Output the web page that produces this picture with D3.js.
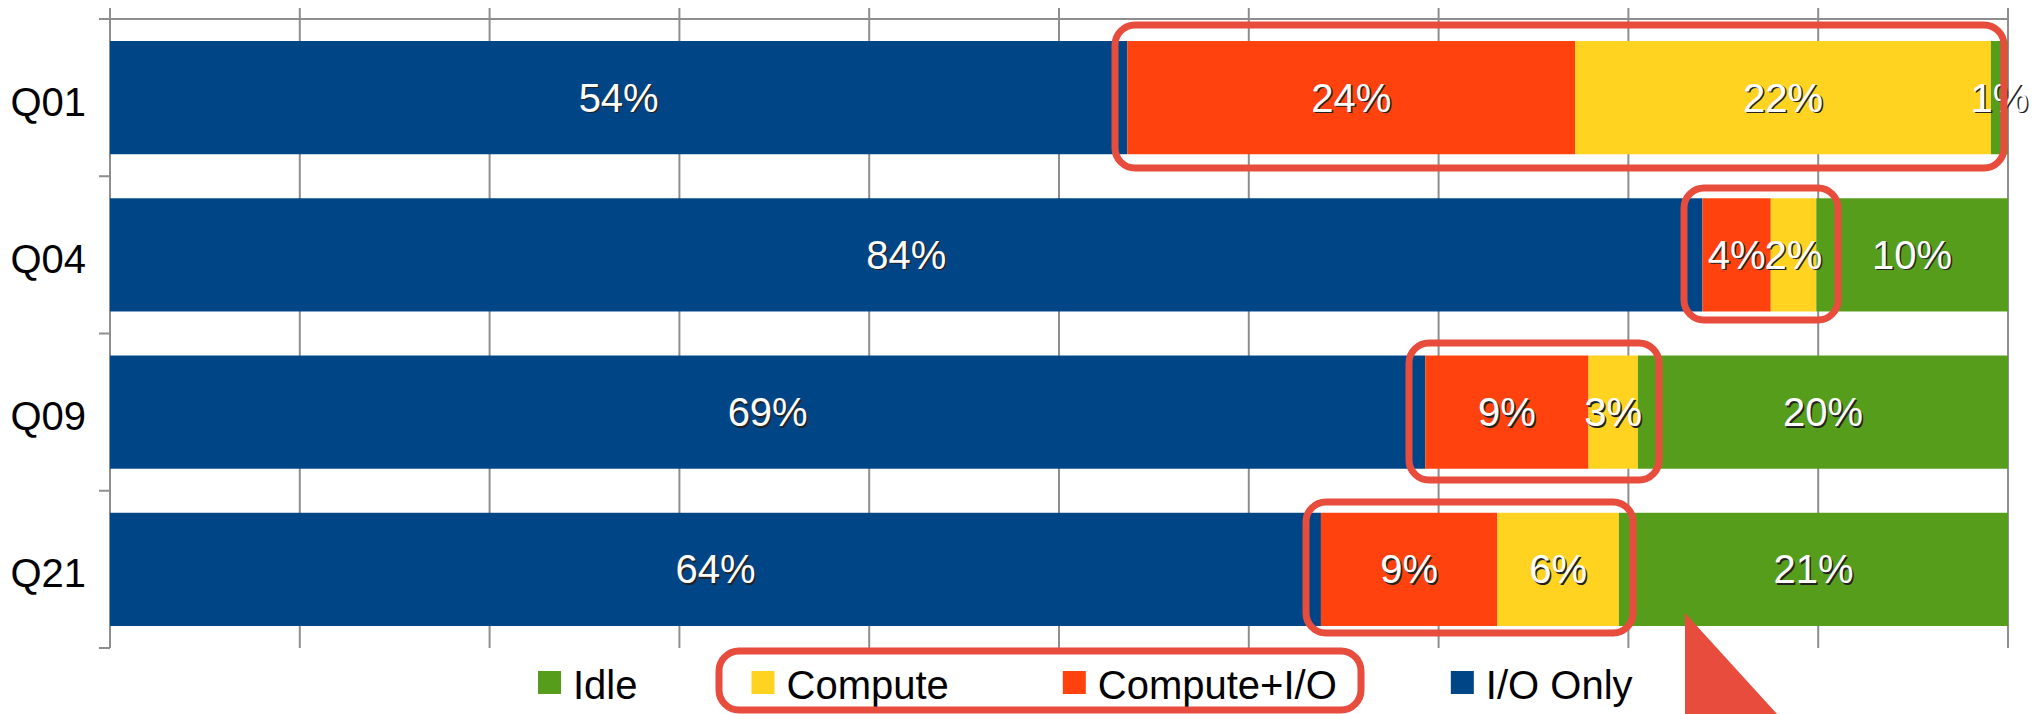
<!DOCTYPE html>
<html>
<head>
<meta charset="utf-8">
<script src="https://cdn.jsdelivr.net/npm/d3@7"></script>
<style>
  html, body { margin: 0; padding: 0; background: #fff; }
  svg { display: block; font-family: "Liberation Sans", Arial, sans-serif; }
</style>
</head>
<body>
<script>
// data (percent of time)
const categories = ["Q01", "Q04", "Q09", "Q21"]
const seriesNames = ["I/O Only", "Compute+I/O", "Compute", "Idle"]
const ioOnly    = [53.6, 83.9, 69.3, 63.8]
const computeIO = [23.6,  3.6,  8.6,  9.3]
const compute   = [21.9,  2.4,  2.6,  6.4]
const idle      = [ 0.9, 10.1, 19.5, 20.5]
const legendOrder = ["Idle", "Compute", "Compute+I/O", "I/O Only"]
const xTicks = [0, 10, 20, 30, 40, 50, 60, 70, 80, 90, 100]

const width = 2043, height = 714
const colors = {
  "I/O Only": "#004586",
  "Compute+I/O": "#ff420e",
  "Compute": "#ffd320",
  "Idle": "#579d1c"
}
const markRed = "#e74c3c"

// one row per category for d3.stack
const rows = categories.map((c, i) => ({
  cat: c,
  "I/O Only": ioOnly[i],
  "Compute+I/O": computeIO[i],
  "Compute": compute[i],
  "Idle": idle[i]
}))

const svg = d3.select("body").append("svg")
  .attr("width", width)
  .attr("height", height)

const x = d3.scaleLinear().domain([0, 100]).range([110, 2008])
const y = d3.scaleBand().domain(categories).range([19, 648])
  .paddingInner(0.28).paddingOuter(0.14)

const gridTop = 8, gridBottom = 648, gridColor = "#8e8e8e"

// vertical grid lines
svg.append("g")
  .selectAll("line")
  .data(xTicks)
  .join("line")
    .attr("x1", d => x(d)).attr("x2", d => x(d))
    .attr("y1", gridTop).attr("y2", gridBottom)
    .attr("stroke", gridColor).attr("stroke-width", 2)

// top line and category tick marks
const bounds = d3.range(categories.length + 1).map(i => y.range()[0] + i * y.step())
svg.append("line")
  .attr("x1", x(0) - 11).attr("x2", x(100))
  .attr("y1", bounds[0]).attr("y2", bounds[0])
  .attr("stroke", gridColor).attr("stroke-width", 2)
svg.append("g")
  .selectAll("line")
  .data(bounds.slice(1))
  .join("line")
    .attr("x1", x(0) - 11).attr("x2", x(0))
    .attr("y1", d => d).attr("y2", d => d)
    .attr("stroke", gridColor).attr("stroke-width", 2)

// stacked bars
const stack = d3.stack().keys(seriesNames)(rows)

const layers = svg.append("g")
  .selectAll("g")
  .data(stack)
  .join("g")
    .attr("fill", d => colors[d.key])

layers.selectAll("rect")
  .data(d => d)
  .join("rect")
    .attr("x", d => x(d[0]))
    .attr("width", d => x(d[1]) - x(d[0]))
    .attr("y", d => y(d.data.cat))
    .attr("height", y.bandwidth())

// value labels, white with a dark drop shadow
const labels = []
stack.forEach(s => s.forEach(d => labels.push({
  cx: (x(d[0]) + x(d[1])) / 2,
  cy: y(d.data.cat) + y.bandwidth() / 2,
  text: Math.round(d[1] - d[0]) + "%"
})))

const lab = svg.append("g")
  .attr("font-size", 40)
  .attr("text-anchor", "middle")
lab.selectAll("text.shadow")
  .data(labels)
  .join("text")
    .attr("class", "shadow")
    .attr("x", d => d.cx + 1.5)
    .attr("y", d => d.cy + 14 + 1.5)
    .attr("fill", "#222")
    .text(d => d.text)
lab.selectAll("text.val")
  .data(labels)
  .join("text")
    .attr("class", "val")
    .attr("x", d => d.cx)
    .attr("y", d => d.cy + 14)
    .attr("fill", "#fff")
    .text(d => d.text)

// category labels
svg.append("g")
  .attr("font-size", 40)
  .attr("text-anchor", "end")
  .selectAll("text")
  .data(categories)
  .join("text")
    .attr("x", 86)
    .attr("y", d => y(d) + y.bandwidth() / 2 + 18)
    .attr("fill", "#000")
    .text(d => d)

// legend
const legend = svg.append("g").attr("font-size", 40)
let lx = 538
legendOrder.forEach(name => {
  legend.append("rect")
    .attr("x", lx).attr("y", 671)
    .attr("width", 23).attr("height", 23)
    .attr("fill", colors[name])
  const t = legend.append("text")
    .attr("x", lx + 35).attr("y", 699)
    .attr("fill", "#000")
    .text(name)
  lx += 35 + t.node().getComputedTextLength() + 114
})

// red annotation boxes around the small segments
const boxes = [
  {x0: 1115, x1: 2004, y0: 25, y1: 168},
  {x0: 1684, x1: 1838, y0: 188, y1: 320},
  {x0: 1409, x1: 1659, y0: 343, y1: 480},
  {x0: 1306, x1: 1633, y0: 502, y1: 633},
  {x0: 719,  x1: 1361, y0: 651, y1: 710}
]
svg.append("g")
  .selectAll("rect")
  .data(boxes)
  .join("rect")
    .attr("x", d => d.x0).attr("y", d => d.y0)
    .attr("width", d => d.x1 - d.x0).attr("height", d => d.y1 - d.y0)
    .attr("rx", 20)
    .attr("fill", "none")
    .attr("stroke", markRed)
    .attr("stroke-width", 7)

// arrow tip poking up from the bottom
svg.append("path")
  .attr("d", "M1685,613L1685,714L1777,714Z")
  .attr("fill", markRed)
</script>
</body>
</html>
